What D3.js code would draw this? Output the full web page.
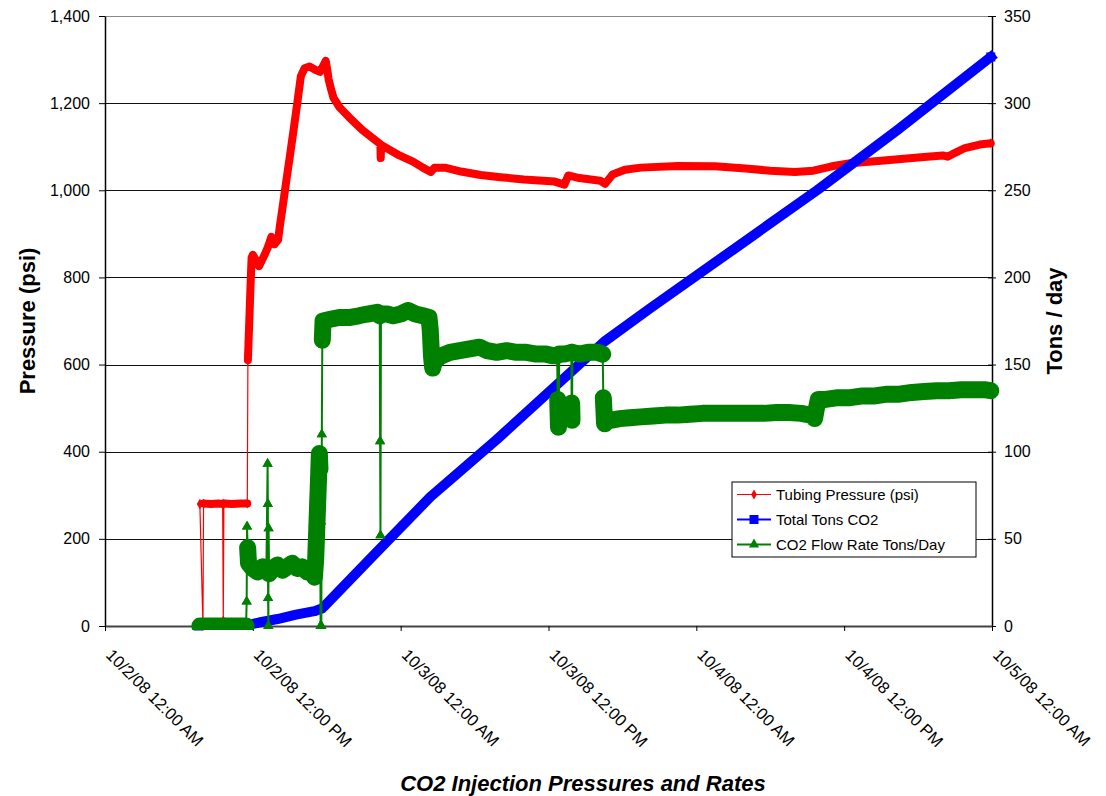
<!DOCTYPE html>
<html>
<head>
<meta charset="utf-8">
<script src="https://cdn.jsdelivr.net/npm/d3@7"></script>
<style>
body { margin: 0; background: #fff; }
text { font-family: "Liberation Sans", Arial, sans-serif; fill: #000; }
</style>
</head>
<body>
<script>
// time is in hours after 10/2/08 12:00 AM
var pressureHours = [7.70, 7.95, 8.00, 8.60, 9.20, 9.55, 9.60, 9.65, 10.30, 11.00, 11.55, 11.60, 11.65, 11.70, 11.75, 11.80, 11.85, 11.90, 12.00, 12.25, 12.50, 12.75, 13.00, 13.20, 13.35, 13.50, 13.75, 14.05, 14.20, 14.40, 14.60, 14.80, 15.00, 15.15, 15.30, 15.45, 15.57, 15.70, 15.80, 15.90, 16.20, 16.60, 17.10, 17.45, 17.70, 17.92, 18.05, 18.15, 18.35, 18.55, 19.05, 19.80, 20.90, 22.35, 22.38, 22.42, 23.90, 25.00, 25.80, 26.45, 26.75, 27.60, 28.90, 30.50, 32.10, 34.00, 36.50, 37.30, 37.60, 38.50, 40.20, 40.60, 41.20, 42.20, 43.50, 46.50, 49.50, 52.00, 54.00, 56.00, 57.50, 59.00, 60.50, 63.00, 66.00, 68.00, 68.40, 69.00, 69.80, 71.00, 71.90]
var pressurePsi = [280, 0, 281, 280, 281, 280, 12, 281, 280, 281, 281, 610, 650, 690, 730, 770, 810, 845, 852, 840, 826, 840, 855, 868, 880, 893, 876, 886, 919, 958, 998, 1038, 1077, 1107, 1137, 1168, 1192, 1220, 1241, 1262, 1280, 1284, 1276, 1272, 1285, 1297, 1275, 1255, 1232, 1212, 1190, 1168, 1138, 1106, 1074, 1104, 1080, 1066, 1052, 1042, 1052, 1052, 1043, 1035, 1030, 1025, 1020, 1013, 1034, 1028, 1022, 1015, 1036, 1047, 1052, 1056, 1055, 1050, 1045, 1042, 1045, 1055, 1062, 1068, 1075, 1080, 1077, 1086, 1097, 1105, 1108]

var tonsHours = [7.55, 9.00, 10.50, 11.30, 12.50, 14.00, 15.50, 17.00, 17.60, 17.90, 22.00, 26.40, 31.80, 40.50, 44.20, 51.00, 57.80, 64.30, 71.90]
var tonsTotal = [0, 0, 0, 0, 2, 4, 6.5, 8.5, 10, 12, 42, 74, 107, 163, 182, 216, 250, 284.5, 326.5]

var flowHours = [7.70, 8.50, 9.50, 10.50, 11.45, 11.50, 11.53, 11.58, 11.65, 12.00, 12.40, 12.80, 13.10, 13.20, 13.22, 13.24, 13.26, 13.28, 13.32, 13.60, 14.00, 14.40, 14.80, 15.20, 15.60, 16.00, 16.40, 16.70, 17.00, 17.10, 17.15, 17.20, 17.25, 17.30, 17.35, 17.40, 17.45, 17.50, 17.53, 17.56, 17.60, 17.64, 17.70, 18.30, 19.00, 19.80, 20.60, 21.30, 22.10, 22.30, 22.33, 22.36, 22.40, 22.90, 23.40, 24.00, 24.60, 25.20, 25.80, 26.30, 26.40, 26.45, 26.50, 26.60, 26.75, 27.30, 28.00, 28.80, 29.60, 30.40, 31.00, 31.80, 32.60, 33.40, 34.20, 35.00, 35.80, 36.40, 36.70, 36.75, 36.78, 36.81, 36.84, 36.87, 37.30, 37.85, 37.88, 37.91, 37.94, 38.50, 39.20, 40.00, 40.40, 40.45, 40.50, 40.55, 40.65, 41.00, 41.80, 42.60, 43.50, 44.50, 45.50, 46.50, 47.50, 48.50, 49.50, 50.50, 51.50, 52.50, 53.50, 54.50, 55.50, 56.50, 57.30, 57.60, 57.75, 57.90, 58.50, 59.50, 60.50, 61.50, 62.50, 63.50, 64.50, 65.50, 66.50, 67.50, 68.50, 69.50, 70.50, 71.50, 71.90]
var flowTons = [0, 0, 0, 0, 0, 14, 57, 45, 36, 33, 31, 34, 32, 93, 70, 16, 0, 56, 30, 33, 35, 32, 34, 36, 33, 34, 31, 33, 28, 38, 48, 58, 68, 78, 88, 99, 90, 0, 60, 0, 110, 164, 175, 176, 177, 177, 178, 179, 180, 178, 106, 52, 179, 179, 178, 179, 181, 179, 178, 177, 170, 163, 155, 148, 152, 155, 157, 158, 159, 160, 158, 157, 158, 157, 157, 156, 156, 155, 155, 130, 122, 114, 125, 156, 156, 157, 128, 118, 157, 156, 157, 157, 156, 131, 124, 116, 119, 118, 119, 119.5, 120, 120.5, 121, 121, 121.5, 122, 122, 122, 122, 122, 122, 122.5, 122.5, 122, 121, 119, 125, 130, 130, 131, 131, 132, 132, 133, 133, 134, 134.5, 135, 135, 135.5, 135.5, 135.5, 135]

var xTickHours = [0, 12, 24, 36, 48, 60, 72]
var xTickLabels = ["10/2/08 12:00 AM", "10/2/08 12:00 PM", "10/3/08 12:00 AM", "10/3/08 12:00 PM", "10/4/08 12:00 AM", "10/4/08 12:00 PM", "10/5/08 12:00 AM"]
var psiTicks = [0, 200, 400, 600, 800, 1000, 1200, 1400]
var tonTicks = [0, 50, 100, 150, 200, 250, 300, 350]
var seriesNames = ["Tubing Pressure (psi)", "Total Tons CO2", "CO2 Flow Rate Tons/Day"]

var width = 1106
var height = 796
var margin = {top: 16, right: 114, bottom: 170, left: 105}
var w = width - margin.left - margin.right
var h = height - margin.top - margin.bottom

var svg = d3.select("body")
  .append("svg")
    .attr("width", width)
    .attr("height", height)

var plot = svg.append("g")
    .attr("transform", "translate(" + margin.left + "," + margin.top + ")")

svg.append("defs").append("clipPath").attr("id", "clip")
  .append("rect").attr("x", -10).attr("y", -10).attr("width", w + 20).attr("height", h + 14)

var x = d3.scaleLinear().domain([0, 72]).range([0, w])
var yL = d3.scaleLinear().domain([0, 1400]).range([h, 0])
var yR = d3.scaleLinear().domain([0, 350]).range([h, 0])

// gridlines
plot.append("g").selectAll("line")
  .data(psiTicks.filter(function(d){ return d > 0 }))
  .enter().append("line")
    .attr("x1", 0).attr("x2", w)
    .attr("y1", function(d){ return Math.round(yL(d)) + 0.5 })
    .attr("y2", function(d){ return Math.round(yL(d)) + 0.5 })
    .attr("stroke", function(d){ return d == 1400 ? "#888" : "#111" })
    .attr("stroke-width", 1)

// left axis
var axL = plot.append("g")
  .call(d3.axisLeft(yL).tickValues(psiTicks).tickFormat(d3.format(",")).tickSizeInner(6).tickSizeOuter(0).tickPadding(9))
axL.select(".domain").attr("stroke", "#000").attr("stroke-width", 1.5)
axL.selectAll("text").style("font-size", "16px")

// right axis, ticks cross the line
var axR = plot.append("g")
    .attr("transform", "translate(" + w + ",0)")
  .call(d3.axisRight(yR).tickValues(tonTicks).tickSizeInner(4).tickSizeOuter(0).tickPadding(8))
axR.selectAll(".tick line").attr("x1", -4)
axR.select(".domain").attr("stroke", "#000").attr("stroke-width", 1.5)
axR.selectAll("text").style("font-size", "16px")

// bottom axis
var axB = plot.append("g")
    .attr("transform", "translate(0," + h + ")")
  .call(d3.axisBottom(x).tickValues(xTickHours).tickFormat("").tickSizeInner(5).tickSizeOuter(0))
axB.select(".domain").attr("stroke", "#444").attr("stroke-width", 2)

plot.append("g").selectAll("text")
  .data(xTickHours)
  .enter().append("text")
    .attr("transform", function(d){ return "translate(" + x(d) + "," + (h + 30) + ") rotate(45)" })
    .style("font-size", "16.5px")
    .text(function(d, i){ return xTickLabels[i] })

// dense runs of samples look like a thick band, steep jumps between samples are thin lines
function drawSeries(hours, values, yScale, color, thick, thin, symbol, symSize, cap) {
  var pts = hours.map(function(t, i){ return [x(t), yScale(values[i])] })
  var runs = [[pts[0]]]
  var marks = [pts[0], pts[pts.length - 1]]
  for (var i = 1; i < pts.length; i++) {
    var dy = Math.abs(pts[i][1] - pts[i-1][1])
    var dx = Math.abs(pts[i][0] - pts[i-1][0])
    if (dy > 20 && dy > 3 * dx) {
      marks.push(pts[i-1], pts[i])
      runs.push([pts[i]])
    } else {
      runs[runs.length - 1].push(pts[i])
    }
  }
  var g = plot.append("g")
  g.append("path")
    .attr("d", d3.line()(pts))
    .attr("fill", "none")
    .attr("stroke", color)
    .attr("stroke-width", thin)
  g.append("g").attr("clip-path", "url(#clip)")
    .selectAll("path")
    .data(runs.filter(function(r){ return r.length > 1 }))
    .enter().append("path")
      .attr("d", d3.line())
      .attr("fill", "none")
      .attr("stroke", color)
      .attr("stroke-width", thick)
      .attr("stroke-linejoin", "round")
      .attr("stroke-linecap", cap)
  g.append("g").selectAll("path")
    .data(marks)
    .enter().append("path")
      .attr("transform", function(d){ return "translate(" + d[0] + "," + d[1] + ")" })
      .attr("d", d3.symbol().type(symbol).size(symSize))
      .attr("fill", color)
}

drawSeries(pressureHours, pressurePsi, yL, "#ff0000", 8, 1.2, d3.symbolDiamond, 28, "round")
drawSeries(tonsHours, tonsTotal, yR, "#0000ff", 10, 1.5, d3.symbolSquare, 81, "square")
drawSeries(flowHours, flowTons, yR, "#008000", 17, 2, d3.symbolTriangle, 45, "round")

// axis titles
svg.append("text")
    .attr("transform", "translate(35," + (margin.top + h / 2) + ") rotate(-90)")
    .attr("text-anchor", "middle")
    .style("font-size", "22px")
    .style("font-weight", "bold")
    .text("Pressure (psi)")

svg.append("text")
    .attr("transform", "translate(1062," + (margin.top + h / 2) + ") rotate(-90)")
    .attr("text-anchor", "middle")
    .style("font-size", "22px")
    .style("font-weight", "bold")
    .text("Tons / day")

svg.append("text")
    .attr("x", 583)
    .attr("y", 791)
    .attr("text-anchor", "middle")
    .style("font-size", "22px")
    .style("font-weight", "bold")
    .style("font-style", "italic")
    .text("CO2 Injection Pressures and Rates")

// legend
var colors = ["#ff0000", "#0000ff", "#008000"]
var symbols = [d3.symbolDiamond, d3.symbolSquare, d3.symbolTriangle]
var symSizes = [28, 81, 45]
var legend = svg.append("g").attr("transform", "translate(732,482)")
legend.append("rect")
    .attr("width", 244).attr("height", 75)
    .attr("fill", "#fff").attr("stroke", "#000").attr("stroke-width", 1)
var row = legend.selectAll(".row")
  .data(seriesNames)
  .enter().append("g")
    .attr("transform", function(d, i){ return "translate(0," + (12.5 + i * 25) + ")" })
row.append("line")
    .attr("x1", 5).attr("x2", 39)
    .attr("stroke", function(d, i){ return colors[i] })
    .attr("stroke-width", function(d, i){ return i == 0 ? 1 : 2 })
row.append("path")
    .attr("transform", "translate(22,0)")
    .attr("d", function(d, i){ return d3.symbol().type(symbols[i]).size(symSizes[i])() })
    .attr("fill", function(d, i){ return colors[i] })
row.append("text")
    .attr("x", 44)
    .attr("dy", "0.35em")
    .style("font-size", "15px")
    .text(function(d){ return d })
</script>
</body>
</html>
